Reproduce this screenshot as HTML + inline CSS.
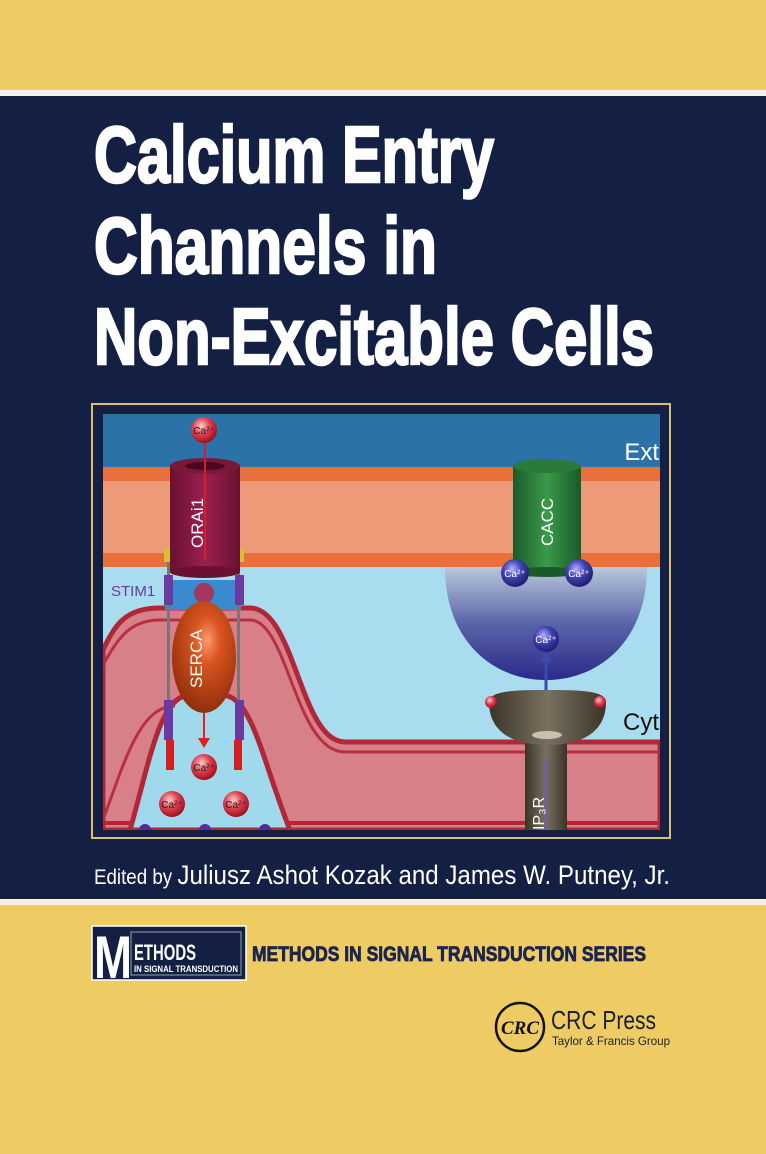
<!DOCTYPE html>
<html><head><meta charset="utf-8"><style>
html,body{margin:0;padding:0;background:#eecb63;}
svg{display:block}
</style></head><body>
<svg width="766" height="1154" viewBox="0 0 766 1154" xmlns="http://www.w3.org/2000/svg">
<defs>
<radialGradient id="caR" cx="40%" cy="35%" r="65%"><stop offset="0" stop-color="#ffd0d0"/><stop offset="0.5" stop-color="#e04050"/><stop offset="1" stop-color="#a01020"/></radialGradient>
<radialGradient id="caB" cx="40%" cy="35%" r="65%"><stop offset="0" stop-color="#b0b0ff"/><stop offset="0.5" stop-color="#4040b0"/><stop offset="1" stop-color="#202070"/></radialGradient>
<linearGradient id="bowl" x1="0" y1="0" x2="0" y2="1"><stop offset="0" stop-color="#b8c8dc"/><stop offset="0.5" stop-color="#5a64a8"/><stop offset="1" stop-color="#2a2a8a"/></linearGradient>
<radialGradient id="serca" cx="55%" cy="35%" r="70%"><stop offset="0" stop-color="#ff9a70"/><stop offset="0.3" stop-color="#d85520"/><stop offset="1" stop-color="#8a2a08"/></radialGradient>
<linearGradient id="orai" x1="0" y1="0" x2="1" y2="0"><stop offset="0" stop-color="#6a1030"/><stop offset="0.5" stop-color="#9a2050"/><stop offset="1" stop-color="#6a1030"/></linearGradient>
<linearGradient id="cacc" x1="0" y1="0" x2="1" y2="0"><stop offset="0" stop-color="#1a5a2a"/><stop offset="0.5" stop-color="#3a9a4a"/><stop offset="1" stop-color="#1a5a2a"/></linearGradient>
<linearGradient id="ip3" x1="0" y1="0" x2="1" y2="0"><stop offset="0" stop-color="#3a3428"/><stop offset="0.5" stop-color="#7a7060"/><stop offset="1" stop-color="#3a3428"/></linearGradient>
</defs>
<rect x="0" y="0" width="766" height="1154" fill="#eecb63"/>
<rect x="0" y="90" width="766" height="6" fill="#f4f1e8"/>
<rect x="0" y="96" width="766" height="803" fill="#132043"/>
<rect x="0" y="899" width="766" height="6" fill="#f4f1e8"/>

<g font-family="'Liberation Sans Narrow','Liberation Sans',sans-serif" font-weight="bold" fill="#fff" stroke="#fff" stroke-width="2.5" font-size="80">
<text x="94" y="182" textLength="400" lengthAdjust="spacingAndGlyphs">Calcium Entry</text>
<text x="94" y="273" textLength="343" lengthAdjust="spacingAndGlyphs">Channels in</text>
<text x="94" y="364" textLength="560" lengthAdjust="spacingAndGlyphs">Non-Excitable Cells</text>
</g>

<rect x="92" y="404" width="578" height="434" fill="none" stroke="#d8c070" stroke-width="2"/>
<g>
<clipPath id="ic"><rect x="103" y="414" width="557" height="416"/></clipPath>
<g clip-path="url(#ic)">
<rect x="103" y="414" width="557" height="416" fill="#aadcf0"/>
<rect x="103" y="414" width="557" height="53" fill="#2a72a8"/>
<rect x="103" y="467" width="557" height="100" fill="#ec9a78"/>
<rect x="103" y="467" width="557" height="14" fill="#e8703a"/>
<rect x="103" y="553" width="557" height="14" fill="#e8703a"/>
<path d="M103,650 C115,625 125,608 160,608 L250,608 C295,608 300,742 345,742 L660,742 L660,830 L103,830 Z" fill="#d8808a" stroke="#b02838" stroke-width="5"/>
<path d="M103,665 C118,638 130,620 160,620 L250,620 C288,620 295,752 345,752 L660,752" fill="none" stroke="#b83040" stroke-width="3"/>
<line x1="103" y1="823" x2="660" y2="823" stroke="#b02838" stroke-width="4"/>
<path d="M130,830 C150,760 160,695 190,695 L222,695 C252,695 262,760 290,830 Z" fill="#a0d8ec" stroke="#b02838" stroke-width="5"/>
<path d="M103,820 C125,760 140,706 175,706" fill="none" stroke="#b83040" stroke-width="3"/>
<rect x="165" y="580" width="76" height="30" fill="#3a8ad0"/>
<circle cx="204" cy="593" r="10" fill="#c02040" opacity="0.8"/>
<rect x="167" y="548" width="3" height="200" fill="#777"/>
<rect x="237" y="548" width="3" height="200" fill="#777"/>
<rect x="164" y="575" width="9" height="30" fill="#6a3aa0"/>
<rect x="235" y="575" width="9" height="30" fill="#6a3aa0"/>
<rect x="164" y="700" width="9" height="40" fill="#6a3aa0"/>
<rect x="235" y="700" width="9" height="40" fill="#6a3aa0"/>
<rect x="166" y="740" width="8" height="30" fill="#d02020"/>
<rect x="234" y="740" width="8" height="30" fill="#d02020"/>
<rect x="164" y="548" width="8" height="14" fill="#d8c030"/>
<rect x="236" y="548" width="8" height="14" fill="#d8c030"/>
<rect x="170" y="466" width="70" height="106" fill="url(#orai)"/>
<ellipse cx="205" cy="572" rx="35" ry="6" fill="#6a1030"/>
<ellipse cx="205" cy="466" rx="35" ry="8" fill="#7a1838"/>
<ellipse cx="205" cy="466" rx="20" ry="4" fill="#4a0820"/>
<line x1="205" y1="440" x2="205" y2="560" stroke="#d02030" stroke-width="2"/>
<text transform="translate(203,548) rotate(-90)" font-family="'Liberation Sans',sans-serif" font-size="17" fill="#fff">ORAi1</text>
<text x="111" y="596" font-family="'Liberation Sans',sans-serif" font-size="15" fill="#6a3a9a">STIM1</text>
<ellipse cx="204" cy="657" rx="32" ry="56" fill="url(#serca)"/>
<text transform="translate(202,688) rotate(-90)" font-family="'Liberation Sans',sans-serif" font-size="17" fill="#fff">SERCA</text>
<line x1="204" y1="713" x2="204" y2="740" stroke="#e02020" stroke-width="2"/>
<polygon points="198,738 210,738 204,748" fill="#e02020"/>
<g font-family="'Liberation Sans',sans-serif" font-size="10" fill="#222" text-anchor="middle">
<circle cx="204" cy="430" r="13" fill="url(#caR)"/><text x="204" y="434">Ca²⁺</text>
<circle cx="204" cy="767" r="13" fill="url(#caR)"/><text x="204" y="771">Ca²⁺</text>
<circle cx="172" cy="804" r="13" fill="url(#caR)"/><text x="172" y="808">Ca²⁺</text>
<circle cx="236" cy="804" r="13" fill="url(#caR)"/><text x="236" y="808">Ca²⁺</text>
</g>
<circle cx="145" cy="830" r="6" fill="#5a2a9a"/><circle cx="205" cy="830" r="6" fill="#5a2a9a"/><circle cx="265" cy="830" r="6" fill="#5a2a9a"/>
<path d="M445,567 L647,567 C647,640 600,680 546,680 C492,680 445,640 445,567 Z" fill="url(#bowl)"/>
<rect x="513" y="466" width="68" height="106" fill="url(#cacc)"/>
<ellipse cx="547" cy="466" rx="34" ry="7" fill="#2a7a3a"/>
<ellipse cx="547" cy="572" rx="34" ry="5" fill="#1a5a2a"/>
<text transform="translate(553,546) rotate(-90)" font-family="'Liberation Sans',sans-serif" font-size="17" fill="#fff">CACC</text>
<line x1="546" y1="694" x2="546" y2="660" stroke="#3a4ab0" stroke-width="3"/>
<polygon points="540,662 552,662 546,652" fill="#3a4ab0"/>
<g font-family="'Liberation Sans',sans-serif" font-size="10" fill="#fff" text-anchor="middle">
<circle cx="515" cy="573" r="14" fill="url(#caB)"/><text x="515" y="577">Ca²⁺</text>
<circle cx="579" cy="573" r="14" fill="url(#caB)"/><text x="579" y="577">Ca²⁺</text>
<circle cx="546" cy="639" r="13" fill="url(#caB)"/><text x="546" y="643">Ca²⁺</text>
</g>
<rect x="525" y="735" width="42" height="100" fill="url(#ip3)"/>
<line x1="546" y1="760" x2="546" y2="830" stroke="#6a5ac0" stroke-width="2"/>
<path d="M489,702 C489,690 520,690 547,690 C575,690 606,690 606,702 C606,730 585,745 547,745 C510,745 489,730 489,702 Z" fill="url(#ip3)"/>
<ellipse cx="547" cy="735" rx="15" ry="4" fill="#c8c0b0"/>
<circle cx="491" cy="702" r="6" fill="url(#caR)"/><circle cx="600" cy="702" r="6" fill="url(#caR)"/>
<text transform="translate(544,830) rotate(-90)" font-family="'Liberation Sans',sans-serif" font-size="16" fill="#fff">IP₃R</text>
<text x="659" y="460" text-anchor="end" font-family="'Liberation Sans Narrow','Liberation Sans',sans-serif" font-size="24" fill="#fff">Ext</text>
<text x="659" y="730" text-anchor="end" font-family="'Liberation Sans Narrow','Liberation Sans',sans-serif" font-size="24" fill="#111">Cyt</text>
</g>
</g>

<text x="94" y="884" textLength="576" lengthAdjust="spacingAndGlyphs" font-family="'Liberation Sans Narrow','Liberation Sans',sans-serif" font-size="27" fill="#fff"><tspan font-size="21">Edited by </tspan>Juliusz Ashot Kozak and James W. Putney, Jr.</text>

<rect x="92" y="926" width="154" height="54" fill="#132043" stroke="#fff" stroke-width="1.5"/>
<rect x="131" y="932" width="110" height="43" fill="none" stroke="#8aa" stroke-width="1"/>
<text x="94" y="978" font-family="'Liberation Sans Narrow','Liberation Sans',sans-serif" font-weight="bold" font-size="60" fill="#fff" textLength="38" lengthAdjust="spacingAndGlyphs">M</text>
<text x="134" y="960" font-family="'Liberation Sans Narrow','Liberation Sans',sans-serif" font-weight="bold" font-size="22" fill="#fff" textLength="62" lengthAdjust="spacingAndGlyphs">ETHODS</text>
<text x="134" y="972" font-family="'Liberation Sans Narrow','Liberation Sans',sans-serif" font-weight="bold" font-size="9" fill="#fff" textLength="104" lengthAdjust="spacingAndGlyphs">IN SIGNAL TRANSDUCTION</text>
<text x="252" y="961" font-family="'Liberation Sans Narrow','Liberation Sans',sans-serif" font-weight="bold" font-size="21" fill="#1a2550" stroke="#1a2550" stroke-width="0.8" textLength="394" lengthAdjust="spacingAndGlyphs">METHODS IN SIGNAL TRANSDUCTION SERIES</text>

<circle cx="520" cy="1027" r="24" fill="none" stroke="#111" stroke-width="2.5"/>
<text x="520" y="1034" text-anchor="middle" font-family="'Liberation Serif',serif" font-style="italic" font-weight="bold" font-size="19" fill="#111" textLength="38" lengthAdjust="spacingAndGlyphs">CRC</text>
<text x="551" y="1029" font-family="'Liberation Sans Narrow','Liberation Sans',sans-serif" font-size="26" fill="#1a2030" textLength="105" lengthAdjust="spacingAndGlyphs">CRC Press</text>
<text x="552" y="1045" font-family="'Liberation Sans Narrow','Liberation Sans',sans-serif" font-size="12" fill="#1a2030" textLength="118" lengthAdjust="spacingAndGlyphs">Taylor &amp; Francis Group</text>
</svg>
</body></html>
